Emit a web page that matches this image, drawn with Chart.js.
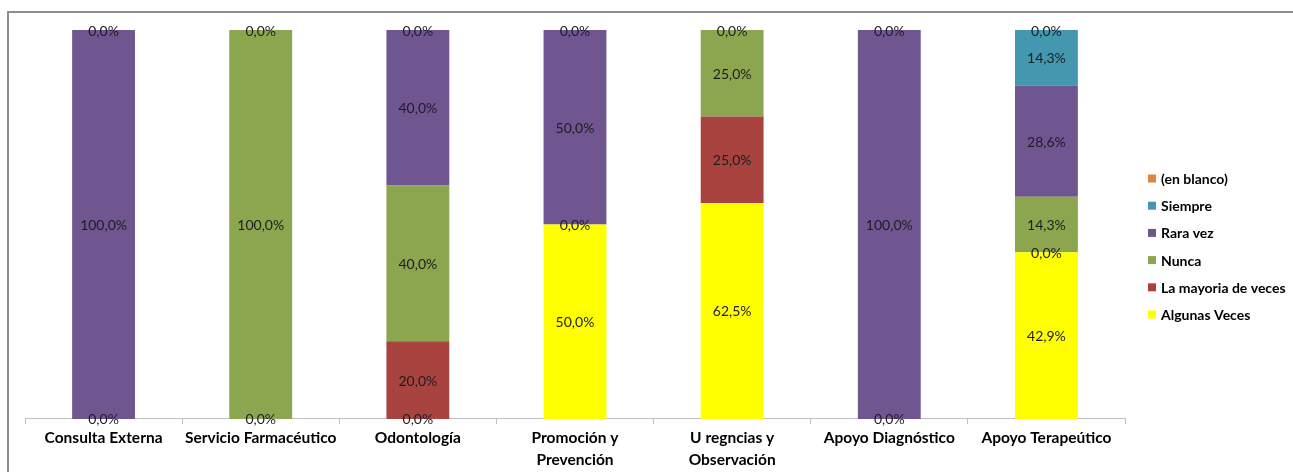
<!DOCTYPE html>
<html>
<head>
<meta charset="utf-8">
<script src="https://cdn.jsdelivr.net/npm/chart.js@4.4.0/dist/chart.umd.min.js"></script>
<style>
  html, body { margin: 0; padding: 0; background: #fff; }
  #wrap { position: relative; width: 1293px; height: 472px; overflow: hidden; background: #fff; }
  #frame { position: absolute; left: 7px; top: 11px; width: 1400px; height: 600px;
           border-top: 2px solid #8e8e8e; border-left: 2px solid #8e8e8e; }
  #c { position: absolute; left: 0; top: 0; }
</style>
</head>
<body>
<div id="wrap">
  <div id="frame"></div>
  <canvas id="c" width="1293" height="472"></canvas>
</div>
<script>
// Areas of service (multi-line labels as arrays)
const categories = [
  ['Consulta Externa'],
  ['Servicio Farmacéutico'],
  ['Odontología'],
  ['Promoción y', 'Prevención'],
  ['U regncias y', 'Observación'],
  ['Apoyo Diagnóstico'],
  ['Apoyo Terapeútico']
];

// Percentages per answer (null = no segment)
const algunasVeces = [0, 0, 0, 50, 62.5, 0, 42.9];
const laMayoriaDeVeces = [null, null, 20, 0, 25, null, 0];
const nunca = [null, 100, 40, null, 25, null, 14.3];
const raraVez = [100, null, 40, 50, null, 100, 28.6];
const siempre = [null, null, null, null, null, null, 14.3];
const enBlanco = [0, 0, 0, 0, 0, 0, 0];

const seriesNames = ['Algunas Veces', 'La mayoria de veces', 'Nunca', 'Rara vez', 'Siempre', '(en blanco)'];
const seriesValues = [algunasVeces, laMayoriaDeVeces, nunca, raraVez, siempre, enBlanco];
const seriesColors = ['#ffff00', '#a8433f', '#8ca54f', '#6f5691', '#4397ae', '#e0863f'];

// Each column is shown as a 100% stack
const totals = categories.map((_, i) =>
  seriesValues.reduce((s, arr) => s + (arr[i] == null ? 0 : arr[i]), 0));

const fmt = v => v.toFixed(1).replace('.', ',') + '%';

const FONT = 'Lato, "Open Sans", sans-serif';

// Value text centred on every segment (zero segments included)
const valueLabels = {
  id: 'valueLabels',
  afterDatasetsDraw(chart) {
    const ctx = chart.ctx;
    ctx.save();
    ctx.font = '14px ' + FONT;
    ctx.fillStyle = '#1c1c22';
    ctx.textAlign = 'center';
    ctx.textBaseline = 'middle';
    chart.data.datasets.forEach((ds, di) => {
      const meta = chart.getDatasetMeta(di);
      meta.data.forEach((bar, i) => {
        const v = ds.rawValues[i];
        if (v === null || v === undefined) return;
        const p = bar.getProps(['x', 'y', 'base'], true);
        ctx.fillText(fmt(v), p.x, (p.y + p.base) / 2 + 1);
      });
    });
    ctx.restore();
  }
};

// Legend column on the right, top series first
const sideLegend = {
  id: 'sideLegend',
  afterDraw(chart) {
    const ctx = chart.ctx;
    const boxX = 1148, textX = 1161, firstY = 178.5, step = 27.2, box = 8;
    ctx.save();
    ctx.font = 'bold 14px ' + FONT;
    ctx.textAlign = 'left';
    ctx.textBaseline = 'middle';
    const items = chart.data.datasets.map(d => ({ text: d.label, color: d.backgroundColor })).reverse();
    items.forEach((it, k) => {
      const cy = firstY + k * step;
      ctx.fillStyle = it.color;
      ctx.fillRect(boxX, cy - box / 2, box, box);
      ctx.fillStyle = '#000';
      ctx.fillText(it.text, textX, cy + 1);
    });
    ctx.restore();
  }
};

const datasets = seriesNames.map((name, k) => ({
  label: name,
  rawValues: seriesValues[k],
  data: seriesValues[k].map((v, i) => v == null ? null : v / totals[i] * 100),
  backgroundColor: seriesColors[k],
  borderWidth: 0,
  barPercentage: 0.4,
  categoryPercentage: 1.0
}));

function draw() {
  new Chart(document.getElementById('c'), {
    type: 'bar',
    data: { labels: categories, datasets },
    plugins: [valueLabels, sideLegend],
    options: {
      responsive: false,
      animation: false,
      layout: { padding: { left: 25, top: 30, right: 168, bottom: -2 } },
      scales: {
        x: {
          stacked: true,
          border: { display: true, color: '#bfbfbf', width: 1 },
          grid: { display: true, drawOnChartArea: false, drawTicks: true, tickLength: 5, color: '#bfbfbf', offset: true },
          ticks: {
            color: '#000',
            padding: 3,
            maxRotation: 0,
            autoSkip: false,
            font: { family: FONT, size: 15.5, weight: 'bold', lineHeight: 1.42 }
          }
        },
        y: { stacked: true, display: false, min: 0, max: 100 }
      },
      plugins: {
        tooltip: { enabled: false },
        legend: { display: false }
      }
    }
  });
}

if (document.fonts && document.fonts.load) {
  Promise.all([
    document.fonts.load('14px Lato'),
    document.fonts.load('bold 15.5px Lato')
  ]).then(draw, draw);
} else {
  draw();
}
</script>
</body>
</html>
